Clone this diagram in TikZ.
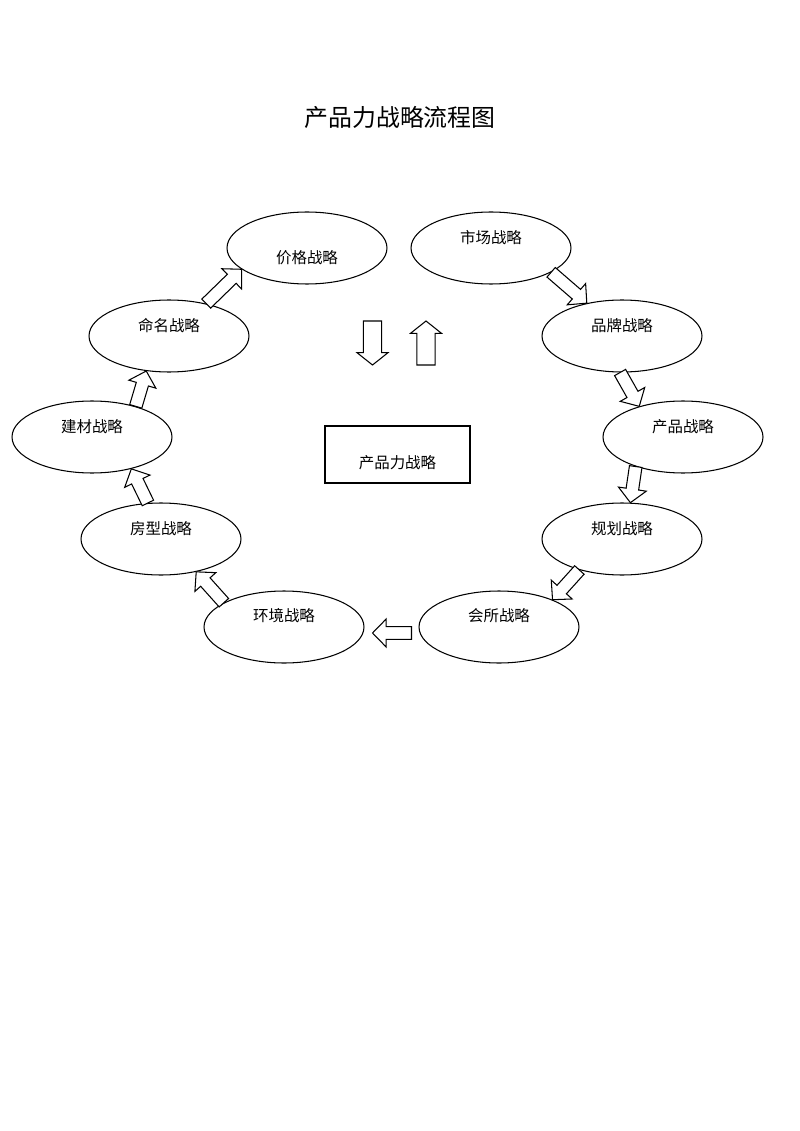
\documentclass[tikz,border=0pt]{standalone}
\usepackage{fontspec}
\newfontfamily\cjk{Noto Sans CJK SC}
\usetikzlibrary{calc,shapes.geometric}

% hollow block arrow from #1 to #2
\def\shafthw{3.6pt}
\def\headhw{8pt}
\def\headlen{7.8pt}
\newcommand{\blockarrow}[2]{%
  \coordinate (ba-s) at (#1);
  \coordinate (ba-e) at (#2);
  \coordinate (ba-h) at ($(ba-e)!\headlen!(ba-s)$);
  \draw[blk] ($(ba-s)!\shafthw!90:(ba-e)$) -- ($(ba-h)!\shafthw!90:(ba-e)$)
    -- ($(ba-h)!\headhw!90:(ba-e)$) -- (ba-e) -- ($(ba-h)!\headhw!-90:(ba-e)$)
    -- ($(ba-h)!\shafthw!-90:(ba-e)$) -- ($(ba-s)!\shafthw!-90:(ba-e)$) -- cycle;
}

\begin{document}
\begin{tikzpicture}[x=0.02cm,y=-0.02cm,font=\cjk\fontsize{8.8}{10}\selectfont]
\tikzstyle{ell}=[draw,ellipse,minimum width=3.2cm,minimum height=1.44cm,inner sep=0pt,line width=0.6pt]
\tikzstyle{blk}=[draw,line width=0.6pt,fill=white]
\useasboundingbox (0,0) rectangle (800,1131);
\node[font=\cjk\fontsize{13.6}{16}\selectfont] (title) at (400,117) {产品力战略流程图};
% ring
\node[ell,label={[yshift=-5.7pt]center:价格战略}] (jg) at (307,248) {};
\node[ell,label={[yshift=5.7pt]center:市场战略}] (sc) at (491,248) {};
\node[ell,label={[yshift=6pt]center:命名战略}] (mm) at (169,336) {};
\node[ell,label={[yshift=6pt]center:品牌战略}] (pp) at (622,336) {};
\node[ell,label={[yshift=6pt]center:建材战略}] (jc) at (92,437) {};
\node[ell,label={[yshift=6pt]center:产品战略}] (cp) at (683,437) {};
\node[ell,label={[yshift=6pt]center:房型战略}] (fx) at (161,539) {};
\node[ell,label={[yshift=6pt]center:规划战略}] (gh) at (622,539) {};
\node[ell,label={[yshift=6.5pt]center:环境战略}] (hj) at (284,627) {};
\node[ell,label={[yshift=6.5pt]center:会所战略}] (hs) at (499,627) {};
\node[draw,line width=0.6pt,minimum width=2.9cm,minimum height=1.14cm,inner sep=0pt,
  label={[yshift=-4.8pt]center:产品力战略}] (core) at (397.5,454.5) {};
% arrows round the ring
\blockarrow{sc.-22}{pp.137}
\blockarrow{pp.-93}{cp.145}
\blockarrow{cp.212}{gh.77}
\blockarrow{gh.216}{hs.27}
\blockarrow{$(hs.west)+(-7,6)$}{$(hj.east)+(8,6)$}
\blockarrow{hj.158}{fx.-43}
\blockarrow{fx.110}{jc.-39}
\blockarrow{jc.35}{mm.237}
\blockarrow{mm.41}{jg.198}
% centre pair
\coordinate (dn-s) at (372.5,321);
\coordinate (dn-e) at (372.5,365);
\coordinate (up-s) at (426,365);
\coordinate (up-e) at (426,321);
\def\shafthw{5.2pt}
\def\headhw{8.8pt}
\def\headlen{7pt}
\blockarrow{dn-s}{dn-e}
\blockarrow{up-s}{up-e}
\end{tikzpicture}
\end{document}
